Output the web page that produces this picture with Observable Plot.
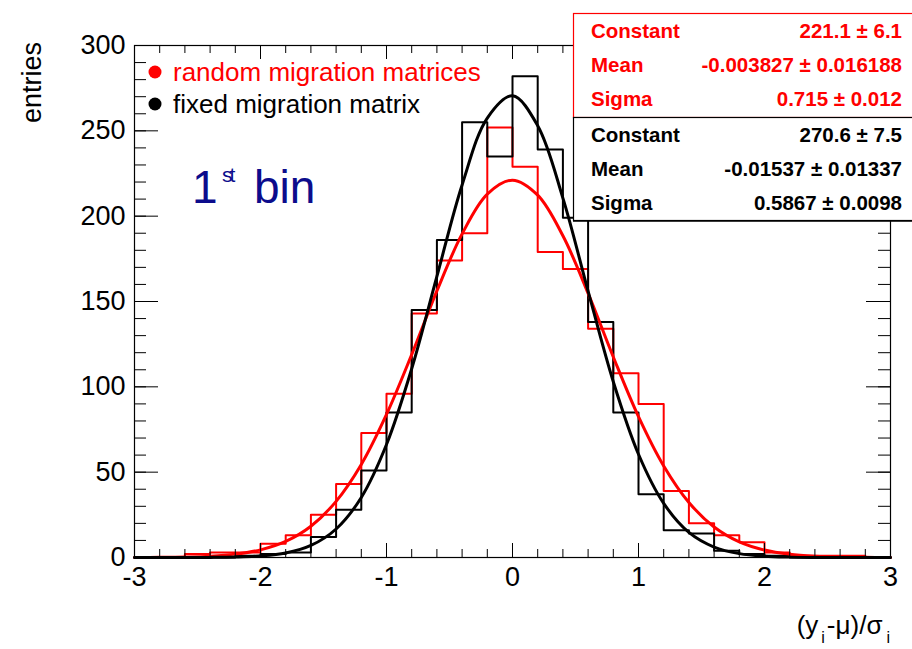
<!DOCTYPE html>
<html><head><meta charset="utf-8">
<script src="https://cdn.jsdelivr.net/npm/d3@7"></script>
<script src="https://cdn.jsdelivr.net/npm/@observablehq/plot@0.6"></script>
<style>html,body{margin:0;padding:0;background:#fff;} svg{display:block}</style>
</head><body><div id="chart"></div>
<script>
// ---- data ----
const binLeftEdges = [-3.0,-2.8,-2.6,-2.4,-2.2,-2.0,-1.8,-1.6,-1.4,-1.2,-1.0,-0.8,-0.6,-0.4,-0.2,0.0,0.2,0.4,0.6,0.8,1.0,1.2,1.4,1.6,1.8,2.0,2.2,2.4,2.6,2.8];
const histEnd = 3.0;
const randomCounts = [0,0,2,3,3,8,13,25,43,73,96,143,174,190,252,229,179,169,134,108,90,39,20,13,9,3,1,1,1,0];
const fixedCounts  = [0,0,0,0,1,2,3,12,28,51,85,145,186,255,235,282,239,199,138,85,37,16,14,4,2,1,0,0,0,0];
const fitX = [-3.0,-2.8,-2.6,-2.4,-2.2,-2.0,-1.8,-1.6,-1.4,-1.2,-1.0,-0.8,-0.6,-0.4,-0.2,0.0,0.2,0.4,0.6,0.8,1.0,1.2,1.4,1.6,1.8,2.0,2.2,2.4,2.6,2.8,3.0];
const randomFit = [0.03,0.10,0.30,0.80,1.98,4.49,9.42,18.3,32.9,54.5,83.8,118.9,156.2,189.6,212.9,221.1,212.3,188.5,154.8,117.5,82.5,53.6,32.2,17.9,9.18,4.36,1.91,0.78,0.29,0.10,0.03];
const fixedFit  = [0,0.003,0.012,0.06,0.26,0.89,2.65,7.05,16.7,35.2,66.2,110.6,164.7,218.3,257.5,270.5,253.0,210.6,156.1,103.0,60.5,31.7,14.7,6.11,2.26,0.74,0.22,0.05,0.01,0.002,0];
const xMajorTicks = [-3,-2,-1,0,1,2,3];
const xTickLabels = ["-3","-2","-1","0","1","2","3"];
const xMinorTicks = d3.range(-30, 31, 2).map(v => v / 10);
const yMajorTicks = [0,50,100,150,200,250,300];
const yMinorTicks = d3.range(0, 301, 10);
const legendLabels = ["random migration matrices", "fixed migration matrix"];
const statRandom = [["Constant","221.1 \u00b1 6.1"],["Mean","-0.003827 \u00b1 0.016188"],["Sigma","0.715 \u00b1 0.012"]];
const statFixed  = [["Constant","270.6 \u00b1 7.5"],["Mean","-0.01537 \u00b1 0.01337"],["Sigma","0.5867 \u00b1 0.0098"]];

const stepPoints = counts => binLeftEdges.map((x, i) => ({x, y: counts[i]}))
  .concat([{x: histEnd, y: counts[counts.length - 1]}]);
const fitPoints = vals => fitX.map((x, i) => ({x, y: vals[i]}));

const W = 912, H = 649, mL = 134, mR = 22, mT = 45, mB = 92;
const plotW = W - mL - mR, plotH = H - mT - mB;

const svg = Plot.plot({
  width: W, height: H,
  marginLeft: mL, marginRight: mR, marginTop: mT, marginBottom: mB,
  style: {fontFamily: "'Liberation Sans', Arial, sans-serif", background: "white", color: "black"},
  x: {domain: [-3, 3]},
  y: {domain: [0, 300]},
  marks: [
    Plot.line(stepPoints(randomCounts), {x: "x", y: "y", curve: "step-after", stroke: "#ff0000", strokeWidth: 2}),
    Plot.line(stepPoints(fixedCounts), {x: "x", y: "y", curve: "step-after", stroke: "#000", strokeWidth: 2}),
    Plot.line(fitPoints(randomFit), {x: "x", y: "y", curve: "catmull-rom", stroke: "#ff0000", strokeWidth: 3}),
    Plot.line(fitPoints(fixedFit), {x: "x", y: "y", curve: "catmull-rom", stroke: "#000", strokeWidth: 3}),
    // ticks pointing inward on all four sides
    Plot.tickX(xMajorTicks, {x: d => d, insetTop: plotH - 14, stroke: "#000"}),
    Plot.tickX(xMinorTicks, {x: d => d, insetTop: plotH - 8, stroke: "#000"}),
    Plot.tickX(xMajorTicks, {x: d => d, insetBottom: plotH - 14, stroke: "#000"}),
    Plot.tickX(xMinorTicks, {x: d => d, insetBottom: plotH - 8, stroke: "#000"}),
    Plot.tickY(yMajorTicks, {y: d => d, insetRight: plotW - 24, stroke: "#000"}),
    Plot.tickY(yMinorTicks, {y: d => d, insetRight: plotW - 12, stroke: "#000"}),
    Plot.tickY(yMajorTicks, {y: d => d, insetLeft: plotW - 24, stroke: "#000"}),
    Plot.tickY(yMinorTicks, {y: d => d, insetLeft: plotW - 12, stroke: "#000"}),
    Plot.frame({stroke: "#000", strokeWidth: 1.2}),
    Plot.axisX(xMajorTicks, {tickSize: 0, tickPadding: 9, fontSize: 27, label: null,
      tickFormat: d => xTickLabels[xMajorTicks.indexOf(d)]}),
    Plot.axisY(yMajorTicks, {tickSize: 0, tickPadding: 9, fontSize: 27, label: null, tickFormat: d => String(d)}),
  ]
});

const s = d3.select(svg);
const font = "'Liberation Sans', Arial, sans-serif";
const txt = (x, y, anchor) => s.append("text").attr("x", x).attr("y", y)
  .attr("text-anchor", anchor || "start").attr("font-family", font);

// y axis title
s.append("text").attr("transform", "translate(41,42) rotate(-90)")
  .attr("text-anchor", "end").attr("font-family", font).attr("font-size", 27).attr("fill", "#000").text("entries");

// x axis title
const xt = txt(890, 634, "end").attr("font-size", 26).attr("fill", "#000");
xt.append("tspan").text("(y");
xt.append("tspan").attr("dx", 3).attr("dy", 9).attr("font-size", 16).text("i");
xt.append("tspan").attr("dx", 2).attr("dy", -9).text("-\u03bc)/\u03c3");
xt.append("tspan").attr("dx", 4).attr("dy", 9).attr("font-size", 16).text("i");

// legend
const legColors = ["#ff0000", "#000"];
legendLabels.forEach((t, i) => {
  s.append("circle").attr("cx", 155).attr("cy", 72 + 32 * i).attr("r", 6.5).attr("fill", legColors[i]);
  txt(173, 81 + 32 * i).attr("font-size", 26).attr("fill", legColors[i]).text(t);
});

// "1st bin"
const blue = "#0c0c8c";
txt(192, 203).attr("font-size", 46).attr("fill", blue).text("1");
txt(222, 182).attr("font-size", 21).attr("letter-spacing", -3).attr("fill", blue).text("st");
txt(254, 203).attr("font-size", 46).attr("fill", blue).text("bin");

// stat boxes
function statBox(y0, h, color, rows) {
  s.append("rect").attr("x", 573.5).attr("y", y0 + 0.5).attr("width", 360).attr("height", h)
    .attr("fill", "white").attr("stroke", color).attr("stroke-width", 1.2);
  rows.forEach((r, i) => {
    const by = y0 + 25 + 34 * i;
    txt(591, by).attr("font-weight", "bold").attr("font-size", 20.5).attr("fill", color).text(r[0]);
    txt(902, by, "end").attr("font-weight", "bold").attr("font-size", 20.5).attr("fill", color).text(r[1]);
  });
}
statBox(13, 104, "#ff0000", statRandom);
statBox(117, 103, "#000", statFixed);
s.append("line").attr("x1", 573).attr("x2", 912).attr("y1", 221).attr("y2", 221).attr("stroke", "#000").attr("stroke-width", 1.5);

document.getElementById("chart").appendChild(svg);
</script>
</body></html>
